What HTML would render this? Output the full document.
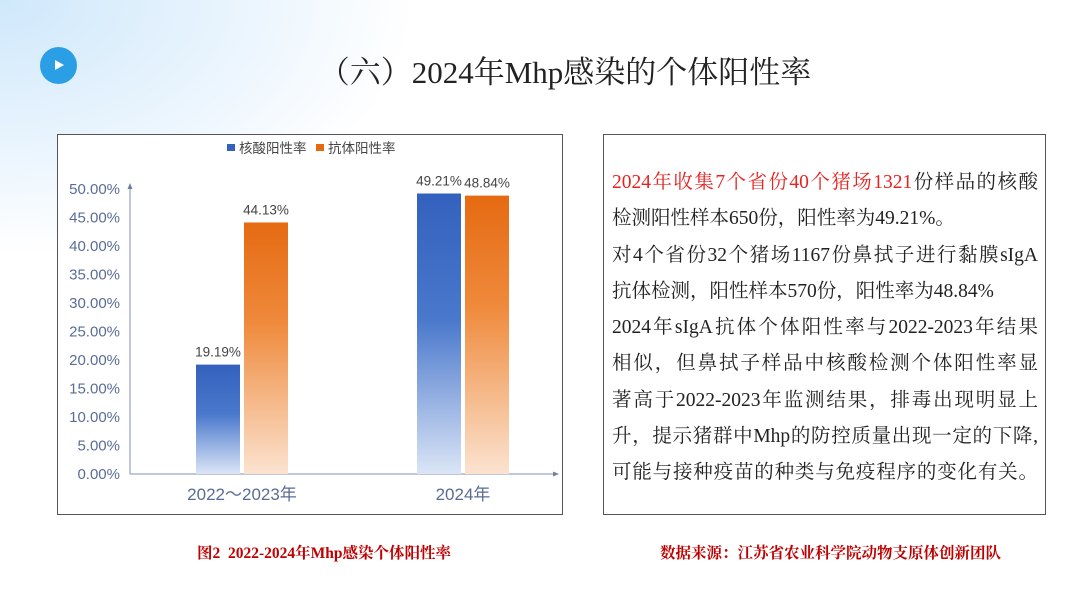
<!DOCTYPE html>
<html><head><meta charset="utf-8"><style>
body{margin:0;width:1080px;height:608px;overflow:hidden;background:#fff;position:relative;font-family:"Liberation Sans","Noto Sans CJK SC",sans-serif}
.bg{position:absolute;left:0;top:0;width:420px;height:260px;background:radial-gradient(ellipse at 0 0,#cfe8fb 0%,#e6f3fd 35%,rgba(255,255,255,0) 70%)}
.title{position:absolute;left:0;width:1130px;top:47px;text-align:center;font:31px "Liberation Serif","Noto Serif CJK SC",serif;color:#222}
.play{position:absolute;left:40px;top:47px;width:37px;height:37px;border-radius:50%;background:#2b9fe6}
.play:after{content:"";position:absolute;left:15px;top:13px;border-left:9px solid #fff;border-top:5.5px solid transparent;border-bottom:5.5px solid transparent}
.box{position:absolute;border:1px solid #555;background:#fff}
.txt{position:absolute;left:612px;top:170px;font:19.5px "Liberation Serif","Noto Serif CJK SC",serif;color:#222}
.txt div{height:36.3px;line-height:26px;white-space:nowrap}
.j{width:426px;text-align:justify;text-align-last:justify}
.cap{position:absolute;top:541px;font:bold 15.5px "Liberation Serif","Noto Serif CJK SC",serif;color:#c00000;white-space:nowrap}
</style></head><body>
<div class="bg"></div>
<div class="play"></div>
<div class="title">（六）2024年Mhp感染的个体阳性率</div>
<div class="box" style="left:57px;top:134px;width:504px;height:379px">
<svg id="chart" width="504" height="379" style="position:absolute;left:-1px;top:-1px"></svg>
</div>
<div class="box" style="left:603px;top:134px;width:441px;height:379px"></div>
<div class="txt">
<div class="j"><span style="color:#e8221f">2024年收集7个省份40个猪场1321</span>份样品的核酸</div>
<div>检测阳性样本650份，阳性率为49.21%。</div>
<div class="j">对4个省份32个猪场1167份鼻拭子进行黏膜sIgA</div>
<div>抗体检测，阳性样本570份，阳性率为48.84%</div>
<div class="j">2024年sIgA抗体个体阳性率与2022-2023年结果</div>
<div class="j">相似，但鼻拭子样品中核酸检测个体阳性率显</div>
<div class="j">著高于2022-2023年监测结果，排毒出现明显上</div>
<div class="j">升，提示猪群中Mhp的防控质量出现一定的下降,</div>
<div class="j">可能与接种疫苗的种类与免疫程序的变化有关。</div>
</div>
<div class="cap" style="left:197px">图2&nbsp; 2022-2024年Mhp感染个体阳性率</div>
<div class="cap" style="left:660px">数据来源：江苏省农业科学院动物支原体创新团队</div>
<script>
const categories=["2022～2023年","2024年"];
const nucleic=[19.19,49.21];
const antibody=[44.13,48.84];
const ticks=[0,5,10,15,20,25,30,35,40,45,50];
const seriesNames=["核酸阳性率","抗体阳性率"];
const svg=document.getElementById('chart');
const NS='http://www.w3.org/2000/svg';
const ox=57,oy=134;
function y(v){return 474-v*5.7-oy;}
const groupX=[242-ox,463-ox];
function mk(t,a){const e=document.createElementNS(NS,t);for(const k in a)e.setAttribute(k,a[k]);svg.appendChild(e);return e;}
const defs=mk('defs',{});
defs.innerHTML='<linearGradient id="gb" x1="0" y1="0" x2="0" y2="1"><stop offset="0" stop-color="#3361bd"/><stop offset="0.45" stop-color="#4a78cc"/><stop offset="1" stop-color="#dbe5f6"/></linearGradient><linearGradient id="go" x1="0" y1="0" x2="0" y2="1"><stop offset="0" stop-color="#e56a12"/><stop offset="0.4" stop-color="#ef8a3c"/><stop offset="1" stop-color="#fbe3d0"/></linearGradient>';
let e=mk('line',{x1:130-ox,y1:y(0),x2:130-ox,y2:188-oy,stroke:'#7f8fb0','stroke-width':1});
mk('path',{d:`M${130-ox-2.5},${189-oy} L${130-ox},${183-oy} L${130-ox+2.5},${189-oy}Z`,fill:'#6f80a3'});
e=mk('line',{x1:130-ox,y1:y(0),x2:553-ox,y2:y(0),stroke:'#7f8fb0','stroke-width':1});
mk('path',{d:`M${553-ox},${y(0)-2.5} L${559-ox},${y(0)} L${553-ox},${y(0)+2.5}Z`,fill:'#6f80a3'});
ticks.forEach(t=>{const tx=mk('text',{x:120-ox,y:y(t)+5,'text-anchor':'end','font-size':15,fill:'#5a6c96'});tx.textContent=t.toFixed(2)+'%';});
categories.forEach((c,i)=>{
  const cx=groupX[i];
  [[nucleic[i],'url(#gb)',-46],[antibody[i],'url(#go)',2]].forEach(([v,f,off],s)=>{
    const r=mk('rect',{x:cx+off,y:y(v),width:44,height:y(0)-y(v),fill:f});
    
    const l=mk('text',{x:cx+off+22,y:y(v)-8,'text-anchor':'middle','font-size':13.5,fill:'#444'});l.textContent=v.toFixed(2)+'%';
    
  });
  const t=mk('text',{x:cx,y:500-oy,'text-anchor':'middle','font-size':17,fill:'#5a6c96'});t.textContent=c;
  
});
[[227,'#3361bd'],[316,'#e56a12']].forEach(([lx,col],i)=>{
  mk('rect',{x:lx-ox,y:144-oy,width:8,height:7,fill:col});
  const t=mk('text',{x:lx+12-ox,y:153-oy,'font-size':13.5,fill:'#444'});t.textContent=seriesNames[i];
  
});
</script>
</body></html>
